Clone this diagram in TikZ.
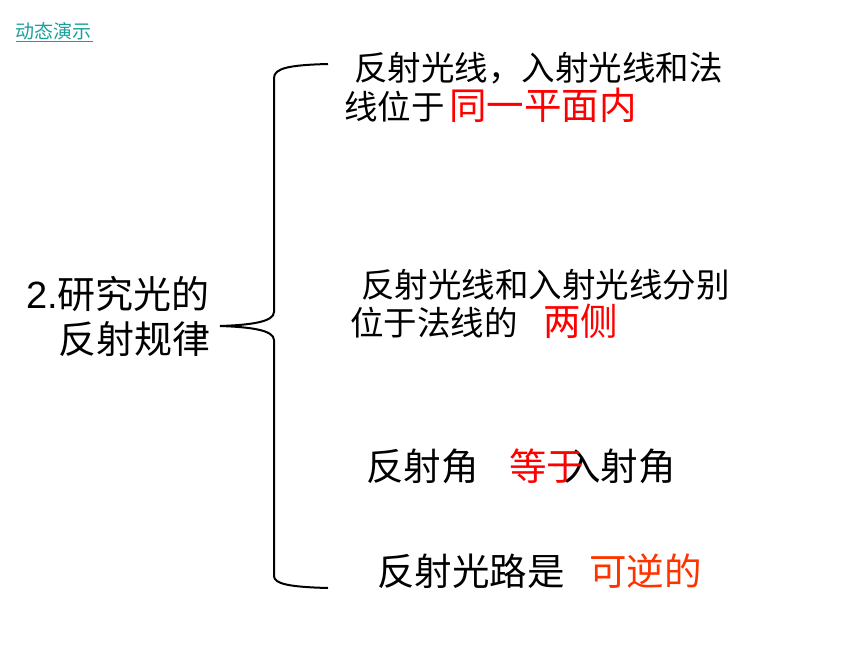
\documentclass[tikz,border=0pt]{standalone}
\usepackage{fontspec}
\setmainfont{Noto Sans CJK SC}
\newfontfamily\latinsans{Liberation Sans}
\definecolor{linkteal}{RGB}{26,160,155}
\definecolor{hired}{RGB}{255,0,0}
\definecolor{orred}{RGB}{255,51,0}
\begin{document}
\begin{tikzpicture}[x=1pt,y=-1pt,
  txt/.style={anchor=base west,inner sep=0pt,outer sep=0pt,text=black},
  small/.style={txt,font=\fontsize{33.5}{40}\selectfont},
  big/.style={txt,font=\fontsize{37.5}{44}\selectfont},
  brace/.style={line width=2pt,black}]
\useasboundingbox (0,0) rectangle (860,645);
% link
\node[txt,text=linkteal,font=\fontsize{19}{22}\selectfont] (link) at (16,38) {动态演示};
\draw[linkteal,line width=1pt] (link.base west)++(0,3) -- ++(77,0);
% left title
\node[big,font=\fontsize{38}{44}\selectfont] (t1) at (26,308) {{\latinsans 2.}研究光的};
\node[big,font=\fontsize{38}{44}\selectfont] (t2) at (58,353) {反射规律};
% brace
\coordinate (btop) at (328,64);
\coordinate (btip) at (220,326);
\coordinate (bbot) at (328,588);
\draw[brace] (btop) .. controls (290,65) and (274,68) .. (274,78)
  -- (274,312) .. controls (274,322) and (250,325) .. (btip)
  .. controls (250,327) and (274,330) .. (274,340)
  -- (274,576) .. controls (274,584) and (290,587) .. (bbot);
% item 1
\node[small] (a1) at (354,80) {反射光线，入射光线和法};
\node[small] (a2) at (344,119) {线位于};
\node[big,text=hired] (a3) at (449,119) {同一平面内};
% item 2
\node[small] (b1) at (361,297) {反射光线和入射光线分别};
\node[small] (b2) at (350,335) {位于法线的};
\node[big,text=hired] (b3) at (543,335) {两侧};
% item 3
\node[big] (c1) at (366,480) {反射角};
\node[big] (c3) at (563,480) {入射角};
\node[big,text=hired] (c2) at (509,480) {等于};
% item 4
\node[big] (d1) at (377,585) {反射光路是};
\node[big,text=orred] (d2) at (589,585) {可逆的};
\end{tikzpicture}
\end{document}
